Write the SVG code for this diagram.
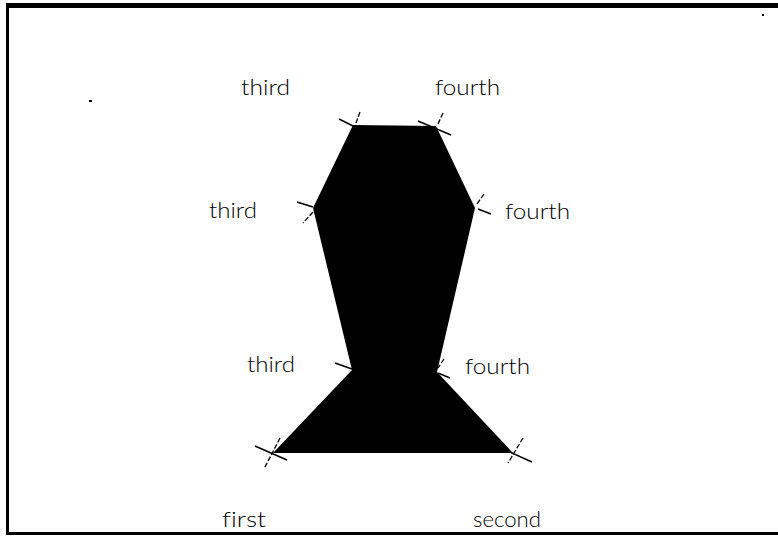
<svg xmlns="http://www.w3.org/2000/svg" width="778" height="536" viewBox="0 0 778 536">
<style>
.lbl{font-family:"Lato","Liberation Sans","DejaVu Sans",sans-serif;font-weight:300;font-size:21px;fill:#000;font-variant-ligatures:none;font-feature-settings:"liga" 0}
.tk{stroke:#000;stroke-width:1.5;fill:none}
.dk{stroke:#000;stroke-width:1.3;fill:none;stroke-dasharray:5 2}
</style>
<rect width="778" height="536" fill="#fff"/>
<g id="frame" fill="#000">
<rect x="7" y="3" width="771" height="5"/>
<rect x="6" y="3" width="3" height="532"/>
<rect x="6" y="532" width="772" height="3"/>
<rect x="89" y="100" width="3" height="2"/>
<rect x="762" y="14" width="2" height="2"/>
</g>
<g id="shape">
<polygon points="353,125 436,126 475,208 437,372 513,453 273,453 352,370 313,208" fill="#000"/>
</g>
<g id="connectors">
<line class="tk" x1="339" y1="119" x2="355" y2="127"/>
<line class="dk" x1="360" y1="112" x2="356" y2="123"/>
<line class="tk" x1="418" y1="121" x2="451" y2="135"/>
<line class="dk" x1="443" y1="113" x2="437" y2="126"/>
<line class="tk" x1="297" y1="202" x2="313" y2="207"/>
<line class="dk" x1="313" y1="212" x2="303" y2="223"/>
<line class="dk" x1="484" y1="194" x2="477" y2="204"/>
<line class="tk" x1="478" y1="209" x2="491" y2="214"/>
<line class="tk" x1="335" y1="363" x2="352" y2="369"/>
<line class="dk" x1="444" y1="359" x2="438" y2="368"/>
<line class="tk" x1="438" y1="373" x2="450" y2="378"/>
<line class="tk" x1="255" y1="446" x2="287" y2="460"/>
<line class="dk" x1="280" y1="438" x2="264" y2="469"/>
<line class="tk" x1="503" y1="449" x2="532" y2="462"/>
<line class="dk" x1="523" y1="438" x2="508" y2="463"/>
</g>
<g id="labels">
<text class="lbl" x="241" y="95" textLength="49" lengthAdjust="spacingAndGlyphs">third</text>
<text class="lbl" x="435" y="95" textLength="65" lengthAdjust="spacingAndGlyphs">fourth</text>
<text class="lbl" x="209" y="218" textLength="48" lengthAdjust="spacingAndGlyphs">third</text>
<text class="lbl" x="505" y="219" textLength="65" lengthAdjust="spacingAndGlyphs">fourth</text>
<text class="lbl" x="247" y="372" textLength="48" lengthAdjust="spacingAndGlyphs">third</text>
<text class="lbl" x="465" y="374" textLength="65" lengthAdjust="spacingAndGlyphs">fourth</text>
<text class="lbl" x="222" y="527" textLength="44" lengthAdjust="spacingAndGlyphs">first</text>
<text class="lbl" x="473" y="527" textLength="68" lengthAdjust="spacingAndGlyphs">second</text>
</g>
</svg>
